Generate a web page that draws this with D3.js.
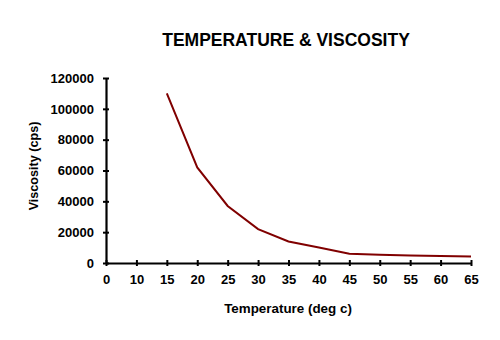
<!DOCTYPE html>
<html>
<head>
<meta charset="utf-8">
<script src="https://cdn.jsdelivr.net/npm/d3@7"></script>
<style>
  body { margin: 0; background: #fff; }
  text { font-family: "Liberation Sans", Arial, sans-serif; font-weight: bold; fill: #000; }
</style>
</head>
<body>
<svg id="chart"></svg>
<script>
// category axis: note there is no 5 between 0 and 10
const categories = ["0", "10", "15", "20", "25", "30", "35", "40", "45", "50", "55", "60", "65"];
const temperatures = ["15", "20", "25", "30", "35", "40", "45", "50", "55", "60", "65"];
const viscosities = [110000, 62000, 37000, 22000, 14000, 10000, 6000, 5400, 4800, 4500, 4200];
const yTicks = [0, 20000, 40000, 60000, 80000, 100000, 120000];

const width = 500,
  height = 340;
const margin = { top: 78, right: 29, bottom: 77, left: 106 };

const svg = d3.select("#chart").attr("width", width).attr("height", height);

const x = d3.scalePoint().domain(categories).range([margin.left, width - margin.right]);
const y = d3.scaleLinear().domain([0, 120000]).range([height - margin.bottom, margin.top]);

const data = temperatures.map((t, i) => ({ t: t, v: viscosities[i] }));

// axes: ticks cross the line on both sides
const xAxis = svg
  .append("g")
  .attr("transform", "translate(0," + y(0) + ")")
  .call(d3.axisBottom(x).tickSizeInner(3).tickSizeOuter(0).tickPadding(9));
xAxis.selectAll(".tick line").attr("y1", -3).attr("stroke-width", 2);

const yAxis = svg
  .append("g")
  .attr("transform", "translate(" + margin.left + ",0)")
  .call(d3.axisLeft(y).tickValues(yTicks).tickFormat(d3.format("d")).tickSizeInner(3).tickSizeOuter(0).tickPadding(9));
yAxis.selectAll(".tick line").attr("x1", 3).attr("stroke-width", 2);

[xAxis, yAxis].forEach(g => {
  g.select(".domain").attr("stroke-width", 2.2).attr("stroke", "#000");
  g.selectAll("text").style("font-size", "13px").style("font-weight", "bold");
});

svg
  .append("path")
  .datum(data)
  .attr("fill", "none")
  .attr("stroke", "#800000")
  .attr("stroke-width", 2)
  .attr("d", d3.line().x(d => x(d.t)).y(d => y(d.v)));

svg
  .append("text")
  .attr("x", 286)
  .attr("y", 46)
  .attr("text-anchor", "middle")
  .style("font-size", "17.5px")
  .text("TEMPERATURE & VISCOSITY");

svg
  .append("text")
  .attr("x", 288)
  .attr("y", 313)
  .attr("text-anchor", "middle")
  .style("font-size", "13.4px")
  .text("Temperature (deg c)");

svg
  .append("text")
  .attr("transform", "translate(38,166) rotate(-90)")
  .attr("text-anchor", "middle")
  .style("font-size", "12.6px")
  .text("Viscosity (cps)");
</script>
</body>
</html>
